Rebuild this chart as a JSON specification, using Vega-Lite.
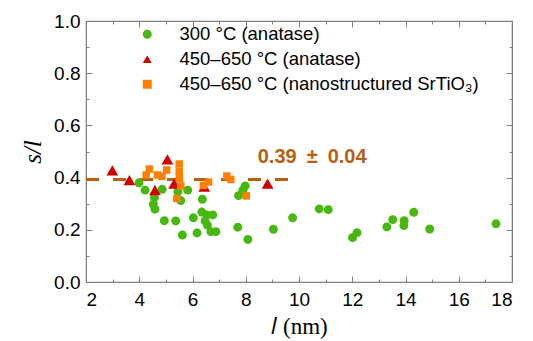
{
  "$schema": "https://vega.github.io/schema/vega-lite/v6.json",
  "autosize": "none",
  "width": 426,
  "height": 261,
  "padding": {"left": 86, "top": 21, "right": 21, "bottom": 59},
  "background": "white",
  "config": {
    "view": {"stroke": "#808080", "strokeWidth": 1.2},
    "font": "Liberation Sans",
    "axis": {"domainColor": "#808080", "tickColor": "#808080", "grid": false, "labelFont": "Liberation Sans", "labelFontSize": 19, "labelColor": "#000", "titleColor": "#000"}
  },
  "datasets": {
    "pts": [
      {"series": "300 °C (anatase)", "l": 3.99, "sl": 0.38},
      {"series": "300 °C (anatase)", "l": 4.22, "sl": 0.352},
      {"series": "300 °C (anatase)", "l": 4.57, "sl": 0.323},
      {"series": "300 °C (anatase)", "l": 4.53, "sl": 0.298},
      {"series": "300 °C (anatase)", "l": 4.59, "sl": 0.279},
      {"series": "300 °C (anatase)", "l": 4.86, "sl": 0.355},
      {"series": "300 °C (anatase)", "l": 4.94, "sl": 0.235},
      {"series": "300 °C (anatase)", "l": 5.37, "sl": 0.234},
      {"series": "300 °C (anatase)", "l": 5.45, "sl": 0.346},
      {"series": "300 °C (anatase)", "l": 5.56, "sl": 0.312},
      {"series": "300 °C (anatase)", "l": 5.82, "sl": 0.352},
      {"series": "300 °C (anatase)", "l": 5.62, "sl": 0.18},
      {"series": "300 °C (anatase)", "l": 6.03, "sl": 0.246},
      {"series": "300 °C (anatase)", "l": 6.17, "sl": 0.188},
      {"series": "300 °C (anatase)", "l": 6.37, "sl": 0.317},
      {"series": "300 °C (anatase)", "l": 6.35, "sl": 0.268},
      {"series": "300 °C (anatase)", "l": 6.54, "sl": 0.257},
      {"series": "300 °C (anatase)", "l": 6.76, "sl": 0.257},
      {"series": "300 °C (anatase)", "l": 6.47, "sl": 0.234},
      {"series": "300 °C (anatase)", "l": 6.56, "sl": 0.218},
      {"series": "300 °C (anatase)", "l": 6.69, "sl": 0.193},
      {"series": "300 °C (anatase)", "l": 6.88, "sl": 0.193},
      {"series": "300 °C (anatase)", "l": 7.7, "sl": 0.21},
      {"series": "300 °C (anatase)", "l": 7.73, "sl": 0.331},
      {"series": "300 °C (anatase)", "l": 7.89, "sl": 0.352},
      {"series": "300 °C (anatase)", "l": 7.98, "sl": 0.368},
      {"series": "300 °C (anatase)", "l": 8.08, "sl": 0.163},
      {"series": "300 °C (anatase)", "l": 9.04, "sl": 0.202},
      {"series": "300 °C (anatase)", "l": 9.76, "sl": 0.246},
      {"series": "300 °C (anatase)", "l": 10.76, "sl": 0.28},
      {"series": "300 °C (anatase)", "l": 11.1, "sl": 0.277},
      {"series": "300 °C (anatase)", "l": 12.01, "sl": 0.17},
      {"series": "300 °C (anatase)", "l": 12.18, "sl": 0.189},
      {"series": "300 °C (anatase)", "l": 13.3, "sl": 0.211},
      {"series": "300 °C (anatase)", "l": 13.52, "sl": 0.239},
      {"series": "300 °C (anatase)", "l": 13.95, "sl": 0.235},
      {"series": "300 °C (anatase)", "l": 13.94, "sl": 0.216},
      {"series": "300 °C (anatase)", "l": 14.31, "sl": 0.267},
      {"series": "300 °C (anatase)", "l": 14.91, "sl": 0.203},
      {"series": "300 °C (anatase)", "l": 17.4, "sl": 0.223},
      {"series": "450–650 °C (anatase)", "l": 2.99, "sl": 0.428},
      {"series": "450–650 °C (anatase)", "l": 3.63, "sl": 0.39},
      {"series": "450–650 °C (anatase)", "l": 4.59, "sl": 0.352},
      {"series": "450–650 °C (anatase)", "l": 5.06, "sl": 0.47},
      {"series": "450–650 °C (anatase)", "l": 5.31, "sl": 0.377},
      {"series": "450–650 °C (anatase)", "l": 6.44, "sl": 0.365},
      {"series": "450–650 °C (anatase)", "l": 8.82, "sl": 0.377},
      {"series": "450–650 °C (nanostructured SrTiO₃)", "l": 4.38, "sl": 0.433},
      {"series": "450–650 °C (nanostructured SrTiO₃)", "l": 4.26, "sl": 0.41},
      {"series": "450–650 °C (nanostructured SrTiO₃)", "l": 4.68, "sl": 0.41},
      {"series": "450–650 °C (nanostructured SrTiO₃)", "l": 4.85, "sl": 0.405},
      {"series": "450–650 °C (nanostructured SrTiO₃)", "l": 5.03, "sl": 0.429},
      {"series": "450–650 °C (nanostructured SrTiO₃)", "l": 5.5, "sl": 0.452},
      {"series": "450–650 °C (nanostructured SrTiO₃)", "l": 5.5, "sl": 0.423},
      {"series": "450–650 °C (nanostructured SrTiO₃)", "l": 5.51, "sl": 0.397},
      {"series": "450–650 °C (nanostructured SrTiO₃)", "l": 5.56, "sl": 0.368},
      {"series": "450–650 °C (nanostructured SrTiO₃)", "l": 5.41, "sl": 0.32},
      {"series": "450–650 °C (nanostructured SrTiO₃)", "l": 6.41, "sl": 0.37},
      {"series": "450–650 °C (nanostructured SrTiO₃)", "l": 6.6, "sl": 0.383},
      {"series": "450–650 °C (nanostructured SrTiO₃)", "l": 7.29, "sl": 0.406},
      {"series": "450–650 °C (nanostructured SrTiO₃)", "l": 7.44, "sl": 0.393},
      {"series": "450–650 °C (nanostructured SrTiO₃)", "l": 8.02, "sl": 0.33}
    ],
    "fit": [
      {"l": 2, "sl": 0.393},
      {"l": 10, "sl": 0.393}
    ]
  },
  "layer": [
    {
      "data": {"name": "fit"},
      "mark": {"type": "line", "color": "#b8600f", "strokeWidth": 3, "strokeDash": [13, 14]},
      "encoding": {
        "x": {"field": "l", "type": "quantitative", "scale": {"domain": [2, 18], "nice": false},
          "axis": {"orient": "bottom", "values": [2, 4, 6, 8, 10, 12, 14, 16, 18], "tickSize": -6, "labelPadding": 14, "title": "𝑙 (nm)", "titleFont": "Liberation Serif", "titleFontSize": 23, "titleFontWeight": "normal", "titlePadding": 6, "domain": true}},
        "y": {"field": "sl", "type": "quantitative", "scale": {"domain": [0, 1], "nice": false},
          "axis": {"orient": "left", "values": [0, 0.2, 0.4, 0.6, 0.8, 1.0], "format": ".1f", "tickSize": -6, "labelPadding": 12, "title": "s/l", "titleFont": "Liberation Serif", "titleFontStyle": "italic", "titleFontSize": 25, "titleFontWeight": "normal", "titlePadding": 8}}
      }
    },
    {
      "data": {"name": "fit"},
      "mark": {"type": "line", "opacity": 0},
      "encoding": {
        "x": {"field": "l", "type": "quantitative", "axis": {"orient": "bottom", "values": [3, 5, 7, 9, 11, 13, 15, 17], "tickSize": -3, "labels": false, "title": null, "domain": false}},
        "y": {"field": "sl", "type": "quantitative", "axis": {"orient": "left", "values": [0.1, 0.3, 0.5, 0.7, 0.9], "tickSize": -3, "labels": false, "title": null, "domain": false}}
      }
    },
    {
      "data": {"name": "fit"},
      "mark": {"type": "line", "opacity": 0},
      "encoding": {
        "x": {"field": "l", "type": "quantitative", "axis": {"orient": "top", "values": [2, 4, 6, 8, 10, 12, 14, 16, 18], "tickSize": -6, "labels": false, "title": null}},
        "y": {"field": "sl", "type": "quantitative", "axis": {"orient": "right", "values": [0, 0.2, 0.4, 0.6, 0.8, 1.0], "tickSize": -6, "labels": false, "title": null}}
      }
    },
    {
      "data": {"name": "fit"},
      "mark": {"type": "line", "opacity": 0},
      "encoding": {
        "x": {"field": "l", "type": "quantitative", "axis": {"orient": "top", "values": [3, 5, 7, 9, 11, 13, 15, 17], "tickSize": -3, "labels": false, "title": null, "domain": false}},
        "y": {"field": "sl", "type": "quantitative", "axis": {"orient": "right", "values": [0.1, 0.3, 0.5, 0.7, 0.9], "tickSize": -3, "labels": false, "title": null, "domain": false}}
      }
    },
    {
      "data": {"name": "pts"},
      "transform": [{"filter": "datum.series === '300 °C (anatase)'"}],
      "mark": {"type": "point", "filled": true, "opacity": 1, "size": 80},
      "encoding": {
        "x": {"field": "l", "type": "quantitative", "axis": null},
        "y": {"field": "sl", "type": "quantitative", "axis": null},
        "color": {"field": "series", "type": "nominal",
          "scale": {"domain": ["300 °C (anatase)", "450–650 °C (anatase)", "450–650 °C (nanostructured SrTiO₃)"], "range": ["#47b80f", "#d00000", "#ff7f00"]},
          "legend": {"title": null, "orient": "none", "legendX": 52, "legendY": 4, "labelFontSize": 18.5, "labelFont": "Liberation Sans", "labelColor": "#000", "symbolSize": 80, "rowPadding": 6, "labelOffset": 23, "labelLimit": 400}},
        "shape": {"field": "series", "type": "nominal",
          "scale": {"domain": ["300 °C (anatase)", "450–650 °C (anatase)", "450–650 °C (nanostructured SrTiO₃)"], "range": ["circle", "triangle-up", "square"]},
          "legend": null}
      }
    },
    {
      "data": {"name": "pts"},
      "transform": [{"filter": "datum.series === '450–650 °C (anatase)'"}],
      "mark": {"type": "point", "filled": true, "opacity": 1, "size": 140},
      "encoding": {
        "x": {"field": "l", "type": "quantitative", "axis": null},
        "y": {"field": "sl", "type": "quantitative", "axis": null},
        "color": {"field": "series", "type": "nominal"},
        "shape": {"field": "series", "type": "nominal"}
      }
    },
    {
      "data": {"name": "pts"},
      "transform": [{"filter": "datum.series === '450–650 °C (nanostructured SrTiO₃)'"}],
      "mark": {"type": "point", "filled": true, "opacity": 1, "size": 56},
      "encoding": {
        "x": {"field": "l", "type": "quantitative", "axis": null},
        "y": {"field": "sl", "type": "quantitative", "axis": null},
        "color": {"field": "series", "type": "nominal"},
        "shape": {"field": "series", "type": "nominal"}
      }
    },
    {
      "data": {"values": [{}]},
      "mark": {"type": "text", "align": "left", "baseline": "middle", "fontSize": 20, "fontWeight": "bold", "font": "Liberation Sans", "color": "#b8600f"},
      "encoding": {
        "x": {"datum": 8.45, "type": "quantitative", "axis": null},
        "y": {"datum": 0.478, "type": "quantitative", "axis": null},
        "text": {"value": "0.39\u2002±\u20020.04"}
      }
    }
  ],
  "resolve": {"axis": {"x": "independent", "y": "independent"}}
}
